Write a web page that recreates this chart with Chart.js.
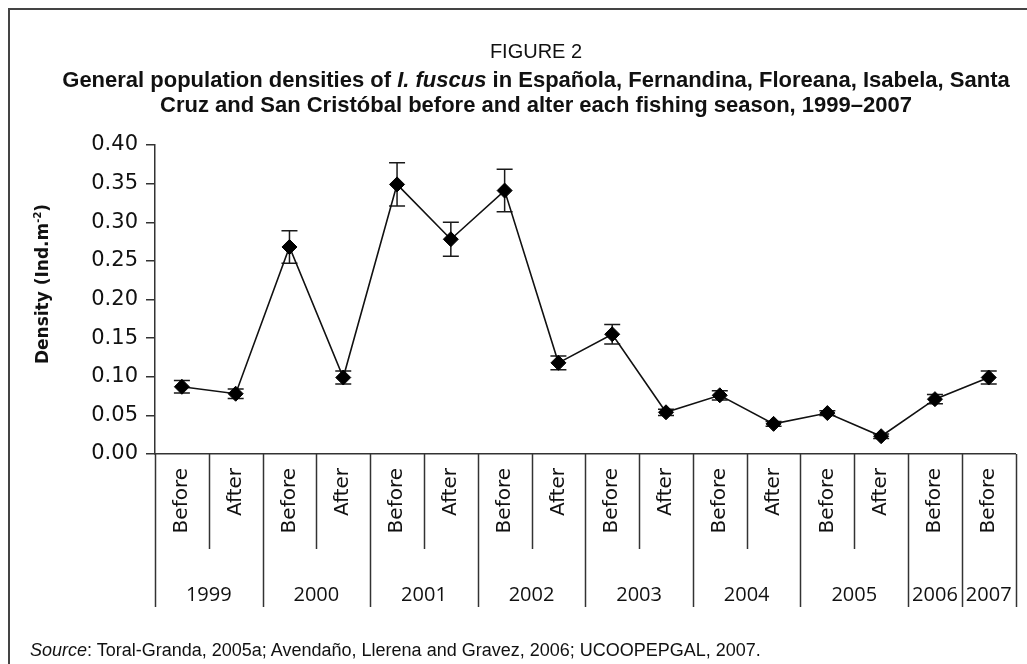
<!DOCTYPE html>
<html>
<head>
<meta charset="utf-8">
<script src="https://cdn.jsdelivr.net/npm/chart.js@4.4.1/dist/chart.umd.min.js"></script>
<style>
  html, body { margin: 0; padding: 0; background: #fff; }
  #wrap { position: relative; width: 1027px; height: 664px; overflow: hidden; background: #fff; }
  #c { position: absolute; left: 0; top: 0; }
  .frameTop { position: absolute; left: 8px; top: 8px; width: 1019px; height: 2px; background: #444; }
  .frameLeft { position: absolute; left: 8px; top: 8px; width: 2px; height: 656px; background: #444; }
  .t { position: absolute; left: 0; width: 1072px; text-align: center; color: #111; white-space: nowrap; }
  #fig { top: 40px; font: 20px "Liberation Sans Narrow", "Liberation Sans", sans-serif; }
  #t1 { top: 67px; font: bold 22px "Liberation Sans Narrow", "Liberation Sans", sans-serif; }
  #t2 { top: 92px; font: bold 22px "Liberation Sans Narrow", "Liberation Sans", sans-serif; }
  #src { position: absolute; left: 30px; top: 640px; font: 18px "Liberation Sans Narrow", "Liberation Sans", sans-serif; color: #111; white-space: nowrap; }
</style>
</head>
<body>
<div id="wrap">
  <canvas id="c" width="1027" height="664"></canvas>
  <div class="frameTop"></div>
  <div class="frameLeft"></div>
  <div class="t" id="fig">FIGURE 2</div>
  <div class="t" id="t1">General population densities of <i>I. fuscus</i> in Española, Fernandina, Floreana, Isabela, Santa</div>
  <div class="t" id="t2">Cruz and San Cristóbal before and alter each fishing season, 1999–2007</div>
  <div id="src"><i>Source</i>: Toral-Granda, 2005a; Avendaño, Llerena and Gravez, 2006; UCOOPEPGAL, 2007.</div>
</div>
<script>
// ---- data ----
const seasons = ['Before','After','Before','After','Before','After','Before','After','Before','After','Before','After','Before','After','Before','Before'];
const pointYears = ['1999','1999','2000','2000','2001','2001','2002','2002','2003','2003','2004','2004','2005','2005','2006','2007'];
const density = [0.087, 0.078, 0.268, 0.099, 0.349, 0.278, 0.341, 0.118, 0.155, 0.054, 0.076, 0.039, 0.053, 0.023, 0.071, 0.099];
const errors  = [0.008, 0.006, 0.021, 0.0085, 0.028, 0.022, 0.0275, 0.009, 0.0125, 0.004, 0.006, 0.003, 0.003, 0.003, 0.006, 0.0085];
const yTicks = [0, 0.05, 0.10, 0.15, 0.20, 0.25, 0.30, 0.35, 0.40];

const AXIS = '#333';

const errorBars = {
  id: 'errorBars',
  beforeDatasetsDraw(chart) {
    const {ctx, scales: {x, y}} = chart;
    ctx.save();
    ctx.strokeStyle = '#1a1a1a';
    ctx.lineWidth = 1.5;
    density.forEach((v, i) => {
      const px = x.getPixelForValue(i);
      const top = y.getPixelForValue(v + errors[i]);
      const bot = y.getPixelForValue(v - errors[i]);
      ctx.beginPath();
      ctx.moveTo(px, top); ctx.lineTo(px, bot);
      ctx.moveTo(px - 8, top); ctx.lineTo(px + 8, top);
      ctx.moveTo(px - 8, bot); ctx.lineTo(px + 8, bot);
      ctx.stroke();
    });
    ctx.restore();
  }
};

const categoryFrame = {
  id: 'categoryFrame',
  afterDraw(chart) {
    const {ctx, scales: {x, y}, chartArea} = chart;
    const n = seasons.length;
    const half = (x.getPixelForValue(1) - x.getPixelForValue(0)) / 2;
    const base = chartArea.bottom;
    ctx.save();
    ctx.strokeStyle = AXIS;
    ctx.lineWidth = 1.5;
    for (let b = 0; b <= n; b++) {
      const px = b < n ? x.getPixelForValue(b) - half : x.getPixelForValue(n - 1) + half;
      const yearBoundary = (b === 0 || b === n || pointYears[b] !== pointYears[b - 1]);
      ctx.beginPath();
      ctx.moveTo(Math.round(px) + 0.5, base);
      ctx.lineTo(Math.round(px) + 0.5, base + (yearBoundary ? 153 : 95));
      ctx.stroke();
    }
    // year labels
    ctx.fillStyle = '#111';
    ctx.font = '20px "Open Sans", sans-serif';
    ctx.textAlign = 'center';
    ctx.textBaseline = 'middle';
    let start = 0;
    for (let i = 1; i <= n; i++) {
      if (i === n || pointYears[i] !== pointYears[start]) {
        const x0 = x.getPixelForValue(start) - half;
        const x1 = x.getPixelForValue(i - 1) + half;
        ctx.fillText(pointYears[start], (x0 + x1) / 2, base + 141);
        start = i;
      }
    }
    // y axis title with superscript
    ctx.save();
    ctx.translate(44, 284);
    ctx.rotate(-Math.PI / 2);
    ctx.textBaseline = 'middle';
    ctx.textAlign = 'left';
    const main = 'Density (Ind.m';
    const sup = '-2';
    const close = ')';
    ctx.font = 'bold 17px "DejaVu Sans", sans-serif';
    const w1 = ctx.measureText(main).width;
    const w3 = ctx.measureText(close).width;
    ctx.font = 'bold 10px "DejaVu Sans", sans-serif';
    const w2 = ctx.measureText(sup).width;
    const total = w1 + w2 + w3;
    let cx = -total / 2;
    ctx.font = 'bold 17px "DejaVu Sans", sans-serif';
    ctx.fillText(main, cx, 0); cx += w1;
    ctx.font = 'bold 10px "DejaVu Sans", sans-serif';
    ctx.fillText(sup, cx, -6); cx += w2;
    ctx.font = 'bold 17px "DejaVu Sans", sans-serif';
    ctx.fillText(close, cx, 0);
    ctx.restore();
    ctx.restore();
  }
};

new Chart(document.getElementById('c'), {
  type: 'line',
  data: {
    labels: seasons,
    datasets: [{
      data: density,
      borderColor: '#111',
      borderWidth: 1.6,
      backgroundColor: '#000',
      pointStyle: 'rectRot',
      pointRadius: 7.5,
      pointBorderWidth: 1,
      pointBorderColor: '#000',
      pointBackgroundColor: '#000',
      tension: 0,
      fill: false
    }]
  },
  options: {
    responsive: false,
    animation: false,
    events: [],
    layout: { padding: { left: 0, top: 145, right: 8, bottom: 0 } },
    plugins: { legend: { display: false }, tooltip: { enabled: false }, title: { display: false } },
    scales: {
      x: {
        type: 'category',
        offset: true,
        grid: { display: false, drawTicks: false },
        border: { display: true, color: AXIS, width: 1.5 },
        ticks: {
          autoSkip: false, maxRotation: 90, minRotation: 90, padding: 14,
          color: '#111', font: { family: '"DejaVu Sans", sans-serif', size: 20 }
        },
        afterFit(scale) { scale.height = 210; }
      },
      y: {
        min: 0, max: 0.4,
        afterBuildTicks(scale) { scale.ticks = yTicks.map(v => ({ value: v })); },
        grid: { drawOnChartArea: false, drawTicks: true, tickLength: 9, color: AXIS, lineWidth: 1.5 },
        border: { display: true, color: AXIS, width: 1.5 },
        ticks: {
          padding: 8, color: '#111',
          font: { family: '"DejaVu Sans", sans-serif', size: 21 },
          callback: v => Number(v).toFixed(2)
        },
        afterFit(scale) { scale.width = 155; }
      }
    }
  },
  plugins: [errorBars, categoryFrame]
});
</script>
</body>
</html>
